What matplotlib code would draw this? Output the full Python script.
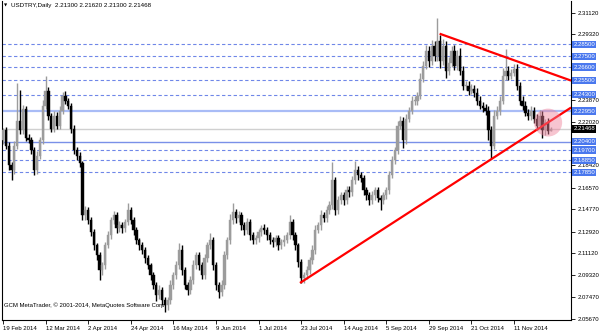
import matplotlib.pyplot as plt
import numpy as np
from matplotlib.patches import Ellipse

plt.rcParams['font.family'] = ['Liberation Sans', 'DejaVu Sans']

# daily closes, USDTRY 19 Feb 2014 .. 28 Nov 2014
closes = [
    2.2133, 2.2008, 2.1842, 2.1801, 2.2008, 2.2216, 2.2133, 2.2315, 2.2074, 2.2050,
    2.1967, 2.1801, 2.1925, 2.2050, 2.2340, 2.2465, 2.2257, 2.2149, 2.2257, 2.2174,
    2.2299, 2.2423, 2.2382, 2.2340, 2.2149, 2.1967, 2.1925, 2.1859, 2.1427, 2.1469,
    2.1386, 2.1286, 2.1178, 2.1095, 2.0971, 2.1012, 2.1178, 2.1261, 2.1386, 2.1427,
    2.1319, 2.1344, 2.1319, 2.1369, 2.1469, 2.1386, 2.1303, 2.1220, 2.1178, 2.1137,
    2.1070, 2.1012, 2.0929, 2.0846, 2.0763, 2.0805, 2.0722, 2.0680, 2.0722, 2.0846,
    2.0929, 2.1012, 2.1137, 2.0971, 2.0846, 2.0805, 2.0888, 2.1012, 2.1095, 2.1012,
    2.0929, 2.1070, 2.1178, 2.1220, 2.1012, 2.0846, 2.0788, 2.0846, 2.1095, 2.1220,
    2.1386, 2.1452, 2.1402, 2.1427, 2.1344, 2.1303, 2.1369, 2.1261, 2.1220, 2.1236,
    2.1286, 2.1319, 2.1303, 2.1261, 2.1220, 2.1203, 2.1236, 2.1178, 2.1203, 2.1220,
    2.1261, 2.1369, 2.1261, 2.1178, 2.1037, 2.0904, 2.0929, 2.0971, 2.1054, 2.1137,
    2.1303, 2.1344, 2.1427, 2.1402, 2.1469, 2.1510, 2.1718, 2.1469, 2.1552, 2.1593,
    2.1552, 2.1635, 2.1618, 2.1718, 2.1801, 2.1759, 2.1734, 2.1635, 2.1593, 2.1552,
    2.1593, 2.1635, 2.1568, 2.1552, 2.1593, 2.1635, 2.1759, 2.1884, 2.1967, 2.2174,
    2.2216, 2.2050, 2.2232, 2.2299, 2.2382, 2.2382, 2.2423, 2.2564, 2.2672, 2.2797,
    2.2714, 2.2838, 2.2755, 2.2880, 2.2714, 2.2838, 2.2631, 2.2697, 2.2797, 2.2672,
    2.2755, 2.2631, 2.2506, 2.2506, 2.2465, 2.2481, 2.2448, 2.2382, 2.2340, 2.2323,
    2.2299, 2.2133, 2.2008, 2.2257, 2.2299, 2.2382, 2.2589, 2.2631, 2.2589, 2.2614,
    2.2647, 2.2506, 2.2382, 2.2340, 2.2282, 2.2257, 2.2299, 2.2232, 2.2174, 2.2257,
    2.2133, 2.2200, 2.2130, 2.2147,
]
first_open = 2.2050

# wick lengths above / below the body, in pips (0.0001)
upper_wick_pips = [
    20, 25, 30, 25, 40, 310, 250, 30, 20, 30,
    25, 30, 40, 30, 50, 124, 30, 25, 40, 30,
    40, 30, 35, 25, 20, 30, 25, 30, 20, 40,
    30, 25, 30, 20, 25, 30, 25, 40, 30, 35,
    30, 40, 25, 30, 60, 30, 25, 30, 20, 30,
    25, 30, 20, 30, 25, 40, 30, 25, 30, 40,
    30, 35, 60, 40, 25, 30, 35, 40, 30, 25,
    30, 40, 30, 60, 30, 25, 30, 40, 40, 30,
    50, 75, 30, 40, 25, 30, 35, 30, 25, 30,
    30, 25, 35, 30, 25, 30, 30, 25, 30, 40,
    30, 60, 30, 25, 20, 25, 30, 35, 30, 40,
    40, 30, 45, 30, 40, 40, 150, 30, 40, 30,
    30, 40, 35, 40, 80, 40, 30, 30, 25, 30,
    35, 30, 25, 30, 30, 30, 40, 40, 30, 40,
    40, 30, 40, 30, 35, 40, 30, 50, 40, 50,
    40, 50, 40, 190, 50, 60, 40, 50, 40, 50,
    50, 60, 40, 40, 35, 40, 30, 35, 40, 30,
    30, 40, 40, 50, 40, 40, 60, 180, 40, 30,
    40, 40, 30, 35, 40, 30, 40, 30, 40, 50,
    40, 30, 35, 15,
]
lower_wick_pips = [
    30, 25, 40, 80, 30, 30, 30, 30, 30, 25,
    30, 40, 30, 25, 30, 30, 40, 30, 25, 30,
    25, 30, 30, 30, 40, 30, 40, 30, 35, 40,
    30, 30, 40, 35, 80, 40, 30, 25, 30, 30,
    40, 30, 35, 30, 25, 30, 40, 30, 40, 35,
    40, 30, 40, 30, 50, 30, 40, 60, 40, 30,
    30, 30, 30, 40, 30, 40, 30, 30, 30, 40,
    30, 30, 30, 30, 40, 40, 50, 30, 30, 30,
    30, 30, 40, 30, 40, 35, 30, 40, 30, 30,
    30, 30, 30, 35, 30, 40, 30, 40, 30, 30,
    25, 30, 40, 40, 40, 40, 40, 30, 30, 30,
    30, 25, 40, 30, 30, 30, 30, 40, 30, 30,
    40, 30, 40, 30, 30, 40, 30, 40, 35, 40,
    30, 40, 30, 80, 30, 30, 30, 25, 30, 30,
    30, 60, 30, 30, 30, 40, 40, 30, 30, 30,
    50, 40, 40, 40, 60, 40, 60, 40, 40, 40,
    40, 40, 40, 40, 40, 30, 40, 40, 30, 40,
    40, 80, 110, 30, 30, 40, 30, 40, 40, 30,
    30, 40, 40, 40, 30, 35, 40, 40, 40, 30,
    60, 40, 30, 0,
]

date_labels = ['19 Feb 2014', '12 Mar 2014', '2 Apr 2014', '24 Apr 2014',
               '16 May 2014', '9 Jun 2014', '1 Jul 2014', '23 Jul 2014',
               '14 Aug 2014', '5 Sep 2014', '29 Sep 2014', '21 Oct 2014',
               '11 Nov 2014']
date_bars = [0, 15, 30, 45, 60, 75, 90, 105, 120, 135, 150, 165, 180]

# price scale ticks; the ones hidden under level boxes show no label
price_ticks = [2.31120, 2.29320, 2.27470, 2.25670, 2.23870, 2.22020, 2.20220,
               2.18420, 2.16570, 2.14770, 2.12920, 2.11120, 2.09320, 2.07470,
               2.05670]
hidden_ticks = [2.27470, 2.25670, 2.20220]
dashed_levels = [2.2850, 2.2750, 2.2660, 2.2550, 2.2430, 2.1970, 2.1885, 2.1785]
solid_levels = [2.2295, 2.2040]
last_price = 2.21468

upper_trend = ([153.8, 200.1], [2.2938, 2.2548])
lower_trend = ([104.6, 200.1], [2.0865, 2.2324])

c = np.array(closes)
o = np.array([first_open] + closes[:-1])
hi = np.maximum(o, c) + np.array(upper_wick_pips) * 0.0001
lo = np.minimum(o, c) - np.array(lower_wick_pips) * 0.0001
idx = np.arange(len(c))
cols = np.where(c >= o, '#9c9c9c', '#000000')

fig = plt.figure(figsize=(6, 3.33), dpi=100)
ax = fig.add_axes([2 / 600, 13 / 333, 569 / 600, 319 / 333])
ax.set_xlim(-0.35, 200.07)
ax.set_ylim(2.0557, 2.3210)

for lv in dashed_levels:
    ax.axhline(lv, color='#6f87e8', lw=0.8, ls=(0, (3, 2.2)), zorder=1)
ax.axhline(solid_levels[0], color='#a9bcf6', lw=1.6, zorder=1)
ax.axhline(solid_levels[1], color='#7a90e8', lw=1.0, zorder=1)
ax.axhline(last_price, color='#d0d0d0', lw=1.0, zorder=1)

ax.vlines(idx, lo, hi, colors=cols, lw=1.0, zorder=2)
ax.bar(idx, np.maximum(np.abs(c - o), 0.0006), bottom=np.minimum(o, c),
       width=0.8, color=cols, edgecolor=cols, lw=0.3, zorder=3)

ax.plot(*upper_trend, color='#ff0000', lw=1.6, zorder=4, solid_capstyle='butt')
ax.plot(*lower_trend, color='#ff0000', lw=1.6, zorder=4, solid_capstyle='butt')

ax.add_patch(Ellipse((192, 2.2199), 9.9, 0.0232, facecolor='#ef7f98',
                     alpha=0.45, lw=0, zorder=5))

ax.yaxis.tick_right()
ax.set_yticks(price_ticks)
ax.set_yticklabels(['' if v in hidden_ticks else f'{v:.5f}' for v in price_ticks])
ax.set_xticks(date_bars)
ax.set_xticklabels(date_labels, ha='left')
ax.tick_params(axis='y', length=3, width=0.6, labelsize=4.3, pad=2)
ax.tick_params(axis='x', length=3, width=0.6, labelsize=4.3, pad=1.5)
for s in ['left', 'right', 'bottom']:
    ax.spines[s].set_linewidth(0.8)
ax.spines['top'].set_visible(False)

tr = ax.get_yaxis_transform()
for lv in dashed_levels + solid_levels:
    ax.text(1.004, lv, f'{lv:.5f}', transform=tr, fontsize=4.3, color='white',
            va='center', ha='left', clip_on=False, zorder=10,
            bbox=dict(boxstyle='square,pad=0.2', fc='#4a78ee', ec='none'))
ax.text(1.004, last_price, f'{last_price:.5f}', transform=tr, fontsize=4.3,
        color='white', va='center', ha='left', clip_on=False, zorder=10,
        bbox=dict(boxstyle='square,pad=0.2', fc='black', ec='none'))

ax.text(0.004, 0.985, '\u25bc', transform=ax.transAxes, fontsize=3,
        va='center', ha='left', family='DejaVu Sans')
ax.text(0.016, 0.985, 'USDTRY,Daily  2.21300 2.21620 2.21300 2.21468',
        transform=ax.transAxes, fontsize=4.5, va='center', ha='left')
ax.text(0.004, 0.045, 'GCM MetaTrader, \u00a9 2001-2014, MetaQuotes Software Corp.',
        transform=ax.transAxes, fontsize=4.3, va='center', ha='left')

fig.savefig('out.png', dpi=100)
